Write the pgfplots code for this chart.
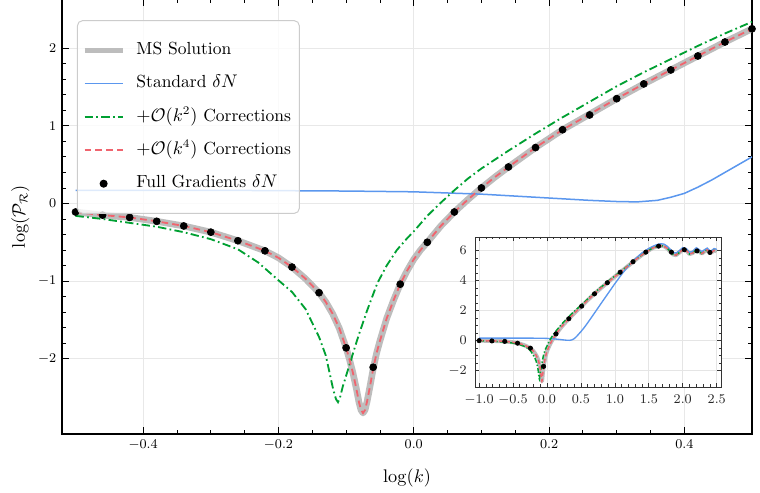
\documentclass[border=0pt]{standalone}
\usepackage{amsmath,amssymb}
\usepackage{pgfplots}
\usepackage{pgfplotstable}
\pgfplotsset{compat=1.18}
\definecolor{msgray}{HTML}{BDBDBD}
\definecolor{sdblue}{HTML}{5B97EE}
\definecolor{kgreen}{HTML}{00A032}
\definecolor{kred}{HTML}{F0646E}

% MS solution
\pgfplotstableread{
x y
-1.00 0.00
-0.90 -0.01
-0.80 -0.02
-0.70 -0.03
-0.60 -0.06
-0.50 -0.11
-0.46 -0.15
-0.42 -0.18
-0.38 -0.23
-0.34 -0.29
-0.30 -0.37
-0.26 -0.48
-0.22 -0.61
-0.20 -0.70
-0.18 -0.82
-0.16 -0.97
-0.14 -1.15
-0.13 -1.27
-0.12 -1.42
-0.11 -1.61
-0.10 -1.86
-0.095 -2.01
-0.09 -2.18
-0.085 -2.38
-0.081 -2.56
-0.078 -2.66
-0.075 -2.70
-0.072 -2.66
-0.069 -2.55
-0.065 -2.37
-0.06 -2.13
-0.055 -1.93
-0.05 -1.77
-0.04 -1.48
-0.03 -1.25
-0.02 -1.04
-0.01 -0.87
0.00 -0.72
0.01 -0.60
0.02 -0.50
0.04 -0.29
0.06 -0.11
0.08 0.05
0.10 0.20
0.12 0.34
0.14 0.47
0.18 0.72
0.22 0.95
0.26 1.15
0.30 1.35
0.34 1.54
0.38 1.72
0.42 1.90
0.46 2.08
0.50 2.25
0.60 2.70
0.70 3.13
0.80 3.52
0.90 3.90
1.00 4.27
1.10 4.63
1.20 5.00
1.30 5.37
1.40 5.72
1.50 6.02
1.56 6.18
1.62 6.28
1.67 6.33
1.72 6.31
1.77 6.16
1.82 5.92
1.86 5.74
1.90 5.70
1.95 5.87
2.00 6.08
2.05 6.02
2.10 5.77
2.15 5.85
2.20 6.07
2.25 5.92
2.28 5.80
2.32 5.94
2.36 6.05
2.40 5.85
2.43 5.90
2.46 6.02
2.50 5.96
}\msdata

% standard delta N
\pgfplotstableread{
x y
-1.00 0.17
-0.50 0.17
-0.30 0.17
-0.10 0.16
0.00 0.15
0.10 0.12
0.20 0.07
0.26 0.04
0.30 0.025
0.33 0.02
0.36 0.04
0.38 0.08
0.40 0.13
0.42 0.21
0.44 0.30
0.46 0.40
0.48 0.50
0.50 0.60
0.55 0.88
0.60 1.19
0.70 1.84
0.80 2.50
0.90 3.15
1.00 3.80
1.10 4.42
1.20 4.98
1.30 5.45
1.40 5.85
1.50 6.15
1.60 6.37
1.67 6.46
1.72 6.44
1.77 6.30
1.82 6.06
1.86 5.88
1.90 5.84
1.95 6.00
2.00 6.20
2.05 6.14
2.10 5.89
2.15 5.97
2.20 6.19
2.25 6.04
2.28 5.93
2.32 6.06
2.36 6.17
2.40 5.97
2.43 6.02
2.46 6.14
2.50 6.08
}\sddata

% O(k^2) corrections
\pgfplotstableread{
x y
-1.00 0.00
-0.90 -0.02
-0.80 -0.04
-0.70 -0.07
-0.60 -0.11
-0.50 -0.16
-0.46 -0.20
-0.42 -0.25
-0.38 -0.30
-0.34 -0.37
-0.30 -0.46
-0.26 -0.59
-0.23 -0.76
-0.20 -0.99
-0.18 -1.14
-0.16 -1.36
-0.14 -1.72
-0.13 -1.96
-0.124 -2.20
-0.119 -2.40
-0.115 -2.52
-0.112 -2.56
-0.109 -2.50
-0.105 -2.36
-0.10 -2.22
-0.094 -2.05
-0.087 -1.85
-0.08 -1.66
-0.069 -1.38
-0.06 -1.17
-0.054 -1.03
-0.04 -0.80
-0.025 -0.60
-0.01 -0.45
0.00 -0.36
0.02 -0.16
0.04 0.01
0.06 0.17
0.08 0.32
0.10 0.45
0.14 0.68
0.18 0.90
0.22 1.11
0.26 1.31
0.30 1.51
0.34 1.69
0.38 1.86
0.42 2.03
0.46 2.19
0.50 2.34
0.60 2.77
0.70 3.20
0.80 3.58
0.90 3.95
1.00 4.31
1.10 4.66
1.20 5.02
1.30 5.38
1.40 5.72
1.50 6.02
1.56 6.18
1.62 6.28
1.67 6.33
1.72 6.31
1.77 6.16
1.82 5.92
1.86 5.74
1.90 5.70
1.95 5.87
2.00 6.08
2.05 6.02
2.10 5.77
2.15 5.85
2.20 6.07
2.25 5.92
2.28 5.80
2.32 5.94
2.36 6.05
2.40 5.85
2.43 5.90
2.46 6.02
2.50 5.96
}\kkdata

% full gradients, main panel
\pgfplotstableread{
x y
-0.50 -0.11
-0.46 -0.15
-0.42 -0.18
-0.38 -0.23
-0.34 -0.29
-0.30 -0.37
-0.26 -0.48
-0.22 -0.61
-0.18 -0.82
-0.14 -1.15
-0.10 -1.86
-0.06 -2.11
-0.02 -1.04
0.02 -0.50
0.06 -0.11
0.10 0.20
0.14 0.47
0.18 0.72
0.22 0.95
0.26 1.14
0.30 1.35
0.34 1.54
0.38 1.72
0.42 1.90
0.46 2.08
0.50 2.25
}\fgmain

% full gradients, inset
\pgfplotstableread{
x y
-1.000 0.00
-0.811 -0.02
-0.622 -0.05
-0.433 -0.17
-0.244 -0.50
-0.050 -1.72
0.133 0.45
0.322 1.46
0.511 2.30
0.700 3.12
0.889 3.86
1.078 4.56
1.267 5.26
1.456 5.90
1.644 6.30
1.833 5.90
2.022 6.06
2.211 5.98
2.400 5.88
}\fginset

\begin{document}
\begin{tikzpicture}
\begin{axis}[
  at={(0,0)}, anchor=south west,
  scale only axis, width=414pt, height=260.8pt,
  xmin=-0.52, xmax=0.5, ymin=-2.97, ymax=2.63,
  xtick={-0.4,-0.2,0,0.2,0.4}, ytick={-2,-1,0,1,2},
  minor x tick num=3, minor y tick num=4,
  grid=major, major grid style={black!9, line width=0.6pt},
  tick align=inside, major tick length=4pt, minor tick length=2.5pt,
  every tick/.style={black, line width=0.5pt},
  axis line style={line width=0.7pt},
  ticklabel style={font=\fontsize{8.5}{10}\selectfont},
  xticklabel style={/pgf/number format/fixed, /pgf/number format/fixed zerofill, /pgf/number format/precision=1},
  xlabel={$\log(k)$}, ylabel={$\log(\mathcal{P}_\mathcal{R})$},
  label style={font=\fontsize{10.5}{12}\selectfont},
  x label style={at={(axis description cs:0.5,-0.1)}, anchor=center},
  y label style={at={(axis description cs:-0.0604,0.5)}, anchor=center},
  clip mode=individual,
  legend cell align=left,
  legend image code/.code={\draw[#1] (0pt,0pt) -- (22.8pt,0pt);},
  legend style={at={(0.0217,0.952)}, anchor=north west,
    draw=black!20, line width=0.6pt, rounded corners=3pt,
    fill=white, fill opacity=0.8, text opacity=1,
    font=\fontsize{10.5}{12}\selectfont,
    inner xsep=3pt, inner ysep=10.8pt, row sep=6pt, column sep=5pt,
    nodes={inner sep=2pt, text height=7.5pt, text depth=2.5pt}},
]
\addplot[msgray, line width=4pt, line join=round, restrict x to domain=-0.5:0.5,
  legend image code/.code={\draw[msgray, line width=2.6pt] (0pt,0pt) -- (22.8pt,0pt);}]
  table {\msdata};
\addlegendentry{MS Solution}
\addplot[sdblue, line width=0.9pt, restrict x to domain=-0.5:0.5] table {\sddata};
\addlegendentry{Standard $\delta N$}
\addplot[kgreen, line width=1.1pt, dash pattern=on 5pt off 2pt on 1pt off 2pt,
  restrict x to domain=-0.5:0.5] table {\kkdata};
\addlegendentry{$+\mathcal{O}(k^2)$ Corrections}
\addplot[kred, line width=1.1pt, dash pattern=on 4pt off 2.5pt,
  restrict x to domain=-0.5:0.5] table {\msdata};
\addlegendentry{$+\mathcal{O}(k^4)$ Corrections}
\addplot[only marks, mark=*, mark size=2.1pt, black,
  legend image code/.code={\fill[black, fill opacity=1] (11.4pt,0pt) circle (2.1pt);}]
  table {\fgmain};
\addlegendentry{Full Gradients $\delta N$}
\end{axis}

\begin{axis}[
  at={(247.8pt,28.2pt)}, anchor=south west,
  scale only axis, width=147.6pt, height=90pt,
  xmin=-1.06, xmax=2.563, ymin=-3.09, ymax=6.91,
  xtick={-1,-0.5,...,2.5}, ytick={-2,0,...,6},
  minor x tick num=4, minor y tick num=3,
  grid=major, major grid style={black!10, line width=0.4pt},
  tick align=inside, major tick length=2.5pt, minor tick length=1.5pt,
  every tick/.style={black!80, line width=0.4pt},
  axis line style={black!80, line width=0.5pt},
  axis background/.style={fill=white},
  ticklabel style={font=\fontsize{8.5}{10}\selectfont, black!85},
  xticklabel style={yshift=-1pt, /pgf/number format/fixed, /pgf/number format/fixed zerofill, /pgf/number format/precision=1},
  yticklabel style={xshift=-1.5pt},
  clip mode=individual,
]
\addplot[msgray, line width=2.4pt, line join=round] table {\msdata};
\addplot[sdblue, line width=0.8pt] table {\sddata};
\addplot[kgreen, line width=0.9pt, dash pattern=on 3pt off 1.2pt on 0.8pt off 1.2pt] table {\kkdata};
\addplot[kred, line width=0.9pt, dash pattern=on 2.5pt off 1.5pt] table {\msdata};
\addplot[only marks, mark=*, mark size=1.3pt, black] table {\fginset};
\end{axis}
\pgfresetboundingbox
\useasboundingbox (-37.2pt,-35.4pt) rectangle (418.8pt,260.4pt);
\end{tikzpicture}
\end{document}
